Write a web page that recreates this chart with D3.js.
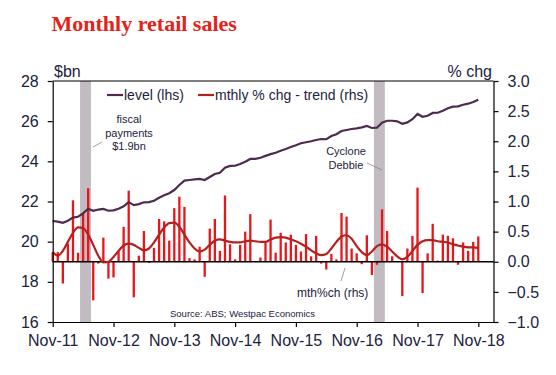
<!DOCTYPE html>
<html><head><meta charset="utf-8">
<script src="https://cdn.jsdelivr.net/npm/d3@7"></script>
<style>
body{margin:0;background:#fff;}
svg{display:block;}
</style></head>
<body>
<svg id="c" width="556" height="375"></svg>
<script>
// ---- data (monthly, starting Nov-11) ----
const startLabel = "Nov-11";
const xTickLabels = ["Nov-11","Nov-12","Nov-13","Nov-14","Nov-15","Nov-16","Nov-17","Nov-18"];
const xTickIndex = [0,12,24,36,48,60,72,84];
const level = [21.03,21.00,20.94,21.04,21.20,21.24,21.41,21.64,21.54,21.60,21.63,21.54,
  21.56,21.64,21.76,21.97,21.82,21.87,21.96,21.97,22.04,22.19,22.31,22.41,
  22.57,22.82,23.04,23.07,23.10,23.13,23.07,23.22,23.37,23.43,23.68,23.77,
  23.78,23.87,23.98,24.12,24.12,24.18,24.27,24.36,24.43,24.53,24.61,24.71,
  24.80,24.90,24.95,25.00,25.06,25.11,25.10,25.26,25.35,25.51,25.56,25.61,
  25.64,25.69,25.76,25.66,25.68,25.92,26.02,26.02,25.99,25.87,25.94,26.10,
  26.36,26.22,26.27,26.41,26.42,26.52,26.64,26.72,26.74,26.82,26.87,26.95,27.07];
const mthChg = [0.16,0.16,-0.36,0.30,1.02,0.15,0.81,1.22,-0.64,-0.03,0.40,-0.28,
  -0.26,0.17,0.58,1.18,-0.59,0.10,0.51,-0.02,0.23,0.71,0.67,0.35,
  0.89,1.08,0.91,0.06,0.04,0.25,-0.25,0.55,0.71,0.18,1.10,0.29,
  0.04,0.28,0.50,0.79,0.01,0.07,0.33,0.70,0.15,0.48,0.32,0.45,
  0.28,0.17,0.46,0.09,0.43,-0.03,-0.13,0.13,0.04,0.81,0.75,0.22,
  0.14,-0.04,0.44,-0.22,-0.05,0.87,0.51,0.09,0.00,-0.57,0.22,0.43,
  1.23,-0.52,0.14,0.63,0.02,0.45,0.43,0.39,-0.05,0.32,0.18,0.33,0.42];
const trend = [0.16,0.10,0.18,0.33,0.48,0.57,0.56,0.45,0.28,0.10,-0.01,0.00,
  0.08,0.18,0.27,0.30,0.28,0.23,0.19,0.22,0.32,0.45,0.57,0.64,
  0.65,0.58,0.45,0.32,0.22,0.17,0.20,0.28,0.35,0.37,0.35,0.33,
  0.32,0.32,0.34,0.35,0.34,0.33,0.33,0.37,0.40,0.41,0.40,0.37,
  0.34,0.30,0.25,0.19,0.14,0.11,0.13,0.22,0.33,0.42,0.44,0.38,
  0.26,0.16,0.11,0.17,0.26,0.29,0.25,0.17,0.09,0.04,0.08,0.18,
  0.28,0.34,0.36,0.36,0.34,0.33,0.32,0.29,0.27,0.25,0.24,0.24,0.23];
const leftTicks = [16,18,20,22,24,26,28];
const rightTicks = [-1.0,-0.5,0.0,0.5,1.0,1.5,2.0,2.5,3.0];
const shadeMonths = [[6,7],[64,65]]; // May-12–Jun-12, Mar-17–Apr-17

// ---- layout ----
const svg = d3.select("#c");
const L = 52.7, R = 493.5, T = 81, B = 322;
const x = d3.scaleLinear().domain([0,87]).range([L,R]);
const yL = d3.scaleLinear().domain([16,28]).range([B,T]);
const yR = d3.scaleLinear().domain([-1,3]).range([B,T]);
const txt = "#1c2340";
const font = "'Liberation Sans', Arial, sans-serif";

// title
svg.append("text").attr("x",51.5).attr("y",31).text("Monthly retail sales")
  .attr("font-family","'Liberation Serif','Times New Roman',serif").attr("font-weight","bold")
  .attr("font-size",22).attr("fill","#e2231a");

// shaded bands
shadeMonths.forEach(m=>{
  svg.append("rect").attr("x",x(m[0]-0.6)).attr("y",T)
    .attr("width",x(m[1]+0.55)-x(m[0]-0.6)).attr("height",B-T).attr("fill","#c2bcc2");
});

// bars
svg.append("g").selectAll("line").data(mthChg).join("line")
  .attr("x1",(d,i)=>x(i)).attr("x2",(d,i)=>x(i))
  .attr("y1",yR(0)).attr("y2",d=>yR(d))
  .attr("stroke","#e8161a").attr("stroke-width",2.3);

// zero line
svg.append("line").attr("x1",L).attr("x2",R).attr("y1",yR(0)).attr("y2",yR(0))
  .attr("stroke","#000").attr("stroke-width",1.3);

// trend line
svg.append("path").datum(trend)
  .attr("d",d3.line().x((d,i)=>x(i)).y(d=>yR(d)).curve(d3.curveMonotoneX))
  .attr("fill","none").attr("stroke","#b3201e").attr("stroke-width",2.2);

// level line
svg.append("path").datum(level)
  .attr("d",d3.line().x((d,i)=>x(i)).y(d=>yL(d)))
  .attr("fill","none").attr("stroke","#4e2b4e").attr("stroke-width",2.2);

// axes
function styleAxis(g){
  g.selectAll("path,line").attr("stroke","#000").attr("stroke-width",1.2);
  g.selectAll("text").attr("font-family",font).attr("font-size",16).attr("fill",txt);
}
svg.append("g").attr("transform",`translate(${L},0)`)
  .call(d3.axisLeft(yL).tickValues(leftTicks).tickSize(5).tickPadding(9).tickSizeOuter(0).tickFormat(d3.format("d")))
  .call(styleAxis);
svg.append("g").attr("transform",`translate(${R},0)`)
  .call(d3.axisRight(yR).tickValues(rightTicks).tickSize(5).tickPadding(9).tickSizeOuter(0).tickFormat(d3.format(".1f")))
  .call(styleAxis);
svg.append("g").attr("transform",`translate(0,${B})`)
  .call(d3.axisBottom(x).tickValues(xTickIndex).tickSize(5).tickPadding(8).tickSizeOuter(0)
    .tickFormat((d,i)=>xTickLabels[i]))
  .call(styleAxis);
// top border
svg.append("line").attr("x1",L).attr("x2",R).attr("y1",T).attr("y2",T)
  .attr("stroke","#000").attr("stroke-width",1.2);

// axis unit labels
svg.append("text").attr("x",54).attr("y",77).text("$bn")
  .attr("font-family",font).attr("font-size",16).attr("fill",txt);
svg.append("text").attr("x",492).attr("y",77).attr("text-anchor","end").text("% chg")
  .attr("font-family",font).attr("font-size",16).attr("fill",txt);

// legend
const leg = [{label:"level (lhs)",color:"#4e2b4e",x:107},{label:"mthly % chg - trend (rhs)",color:"#b3201e",x:198}];
leg.forEach(l=>{
  svg.append("line").attr("x1",l.x).attr("x2",l.x+16).attr("y1",95).attr("y2",95)
    .attr("stroke",l.color).attr("stroke-width",2.2);
  svg.append("text").attr("x",l.x+17).attr("y",100).text(l.label)
    .attr("font-family",font).attr("font-size",14).attr("fill",txt);
});

// annotations
function note(lines, cx, y0, lh, size){
  lines.forEach((t,i)=>svg.append("text").attr("x",cx).attr("y",y0+i*lh).attr("text-anchor","middle")
    .text(t).attr("font-family",font).attr("font-size",size).attr("fill",txt));
}
note(["fiscal","payments","$1.9bn"],129,123,13.5,11);
note(["Cyclone","Debbie"],346,155,13.5,11);
svg.append("text").attr("x",297).attr("y",296.5).text("mth%ch (rhs)")
  .attr("font-family",font).attr("font-size",12).attr("fill",txt);
svg.append("text").attr("x",170).attr("y",317).text("Source: ABS; Westpac Economics")
  .attr("font-family",font).attr("font-size",9.5).attr("fill",txt);
const leaders = [[93,147,102,142],[367,163,382,170],[341,281,345,268]];
leaders.forEach(p=>svg.append("line").attr("x1",p[0]).attr("y1",p[1]).attr("x2",p[2]).attr("y2",p[3])
  .attr("stroke","#888").attr("stroke-width",0.8));
</script>
</body></html>
